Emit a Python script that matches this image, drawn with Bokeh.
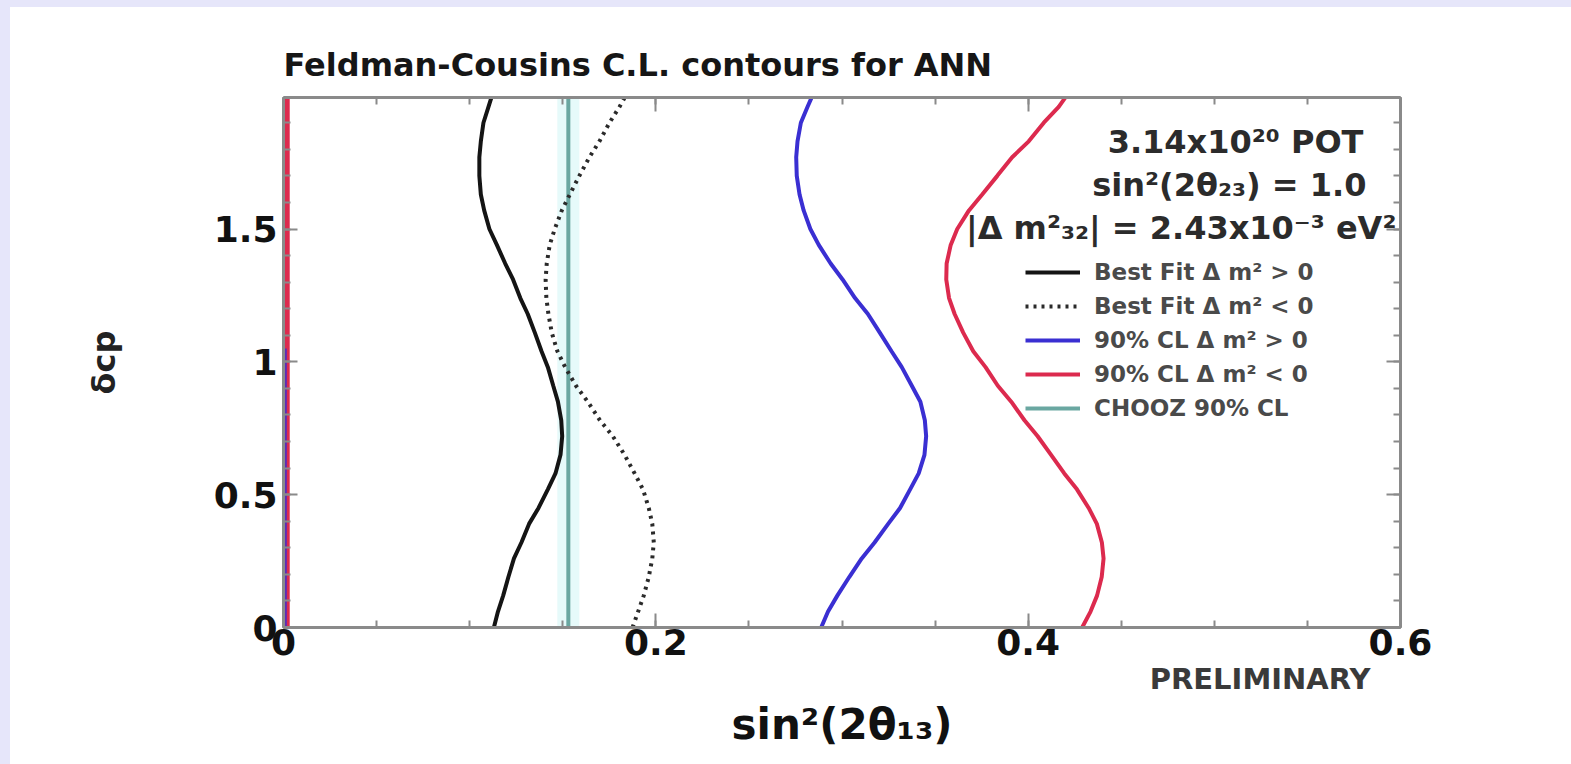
from bokeh.plotting import figure
from bokeh.models import (Range1d, FixedTicker, LinearAxis, Label, Legend, LegendItem,
                          Title, Spacer)
from bokeh.layouts import column, row
from bokeh.embed import file_html
from bokeh.resources import INLINE

# delta_CP (units of pi) sampled along each contour
delta_cp = [0.0, 0.06, 0.12, 0.19, 0.26, 0.32, 0.39, 0.45, 0.52, 0.58, 0.65,
            0.72, 0.78, 0.85, 0.91, 0.98, 1.04, 1.11, 1.18, 1.24, 1.31, 1.37,
            1.44, 1.50, 1.57, 1.63, 1.70, 1.77, 1.83, 1.90, 1.96, 2.0]

# sin^2(2 theta_13) along each contour
best_fit_normal = [0.1130, 0.1152, 0.1180, 0.1208, 0.1238, 0.1278, 0.1319, 0.1370,
                   0.1420, 0.1461, 0.1488, 0.1497, 0.1492, 0.1474, 0.1449, 0.1420,
                   0.1386, 0.1350, 0.1312, 0.1272, 0.1233, 0.1191, 0.1146, 0.1106,
                   0.1078, 0.1060, 0.1052, 0.1052, 0.1060, 0.1074, 0.1101, 0.1119]
best_fit_inverted = [0.1875, 0.1905, 0.1935, 0.1962, 0.1981, 0.1989, 0.1981, 0.1962,
                     0.1931, 0.1886, 0.1832, 0.1769, 0.1700, 0.1634, 0.1571, 0.1513,
                     0.1471, 0.1441, 0.1423, 0.1412, 0.1408, 0.1414, 0.1430, 0.1457,
                     0.1495, 0.1538, 0.1589, 0.1643, 0.1697, 0.1751, 0.1805, 0.1837]
cl90_normal = [0.2888, 0.2925, 0.2975, 0.3039, 0.3106, 0.3175, 0.3248, 0.3312,
               0.3366, 0.3412, 0.3443, 0.3452, 0.3445, 0.3421, 0.3375, 0.3321,
               0.3266, 0.3203, 0.3139, 0.3070, 0.3003, 0.2939, 0.2875, 0.2830,
               0.2794, 0.2772, 0.2757, 0.2754, 0.2761, 0.2779, 0.2815, 0.2840]
cl90_inverted = [0.4290, 0.4335, 0.4370, 0.4395, 0.4405, 0.4396, 0.4369, 0.4325,
                 0.4262, 0.4194, 0.4123, 0.4051, 0.3980, 0.3909, 0.3837, 0.3771,
                 0.3705, 0.3651, 0.3605, 0.3575, 0.3560, 0.3562, 0.3584, 0.3619,
                 0.3682, 0.3753, 0.3834, 0.3914, 0.4003, 0.4084, 0.4164, 0.4205]

# lower edges of the 90% CL regions, pinned near sin^2 = 0
cl90_normal_low_x = [0.001, 0.001]
cl90_normal_low_delta = [0.0, 1.05]
cl90_inverted_low_x = [0.002, 0.002]
cl90_inverted_low_delta = [0.0, 2.0]

# CHOOZ 90% CL upper limit
chooz_limit = 0.153
chooz_delta = [0.0, 2.0]

x_ticks = [0, 0.2, 0.4, 0.6]
x_minor = [round(0.05 * i, 2) for i in range(13)]
y_ticks = [0, 0.5, 1, 1.5]
y_minor = [round(0.1 * i, 1) for i in range(20)]

legend_labels = ["Best Fit \u0394 m\u00b2 > 0", "Best Fit \u0394 m\u00b2 < 0",
                 "90% CL \u0394 m\u00b2 > 0", "90% CL \u0394 m\u00b2 < 0",
                 "CHOOZ 90% CL"]
info_lines = ["3.14x10\u00b2\u2070 POT",
              "sin\u00b2(2\u03b8\u2082\u2083) = 1.0",
              "|\u0394 m\u00b2\u2083\u2082| = 2.43x10\u207b\u00b3 eV\u00b2"]

FONT = "DejaVu Sans"
BLACK = "#141414"
BLUE = "#3a2fd2"
RED = "#dc2a4e"
TEAL = "#6aa7a1"
AXIS_GRAY = "#8a8a8a"
LAVENDER = "#e6e6fa"

p = figure(width=1561, height=757,
           x_range=Range1d(0, 0.6), y_range=Range1d(0, 1.995),
           output_backend="svg", toolbar_location=None,
           min_border_left=273, min_border_right=171,
           min_border_top=90, min_border_bottom=137,
           background_fill_color="white", border_fill_color="white")
p.grid.visible = False
p.outline_line_color = "#6e6e6e"
p.outline_line_width = 2

p.title.text = "Feldman-Cousins C.L. contours for ANN"
p.title.text_font = FONT
p.title.text_font_size = "32px"
p.title.text_font_style = "bold"
p.title.text_color = "#161616"
p.title.align = "left"
p.title.standoff = 28


def style_axis(ax, show_labels):
    ax.axis_line_color = AXIS_GRAY
    ax.axis_line_width = 3
    ax.major_tick_line_color = AXIS_GRAY
    ax.major_tick_line_width = 2
    ax.minor_tick_line_color = AXIS_GRAY
    ax.minor_tick_line_width = 2
    ax.major_tick_in = 14
    ax.major_tick_out = 0
    ax.minor_tick_in = 7
    ax.minor_tick_out = 0
    if show_labels:
        ax.major_label_text_font = FONT
        ax.major_label_text_font_size = "36px"
        ax.major_label_text_font_style = "bold"
        ax.major_label_text_color = "#111111"
    else:
        ax.major_label_text_color = None
        ax.major_label_text_font_size = "1px"


xa = p.xaxis[0]
xa.ticker = FixedTicker(ticks=x_ticks, minor_ticks=x_minor)
xa.major_label_overrides = {0: "0", 0.2: "0.2", 0.4: "0.4", 0.6: "0.6"}
style_axis(xa, True)
xa.major_label_standoff = 1

ya = p.yaxis[0]
ya.ticker = FixedTicker(ticks=y_ticks, minor_ticks=y_minor)
ya.major_label_overrides = {0: "0", 0.5: "0.5", 1: "1", 1.5: "1.5"}
style_axis(ya, True)
ya.major_label_standoff = 6
ya.axis_label = "\u03b4cp"
ya.axis_label_text_font = FONT
ya.axis_label_text_font_size = "32px"
ya.axis_label_text_font_style = "bold"
ya.axis_label_text_color = "#222222"
ya.axis_label_standoff = 88

top_axis = LinearAxis(ticker=FixedTicker(ticks=x_ticks, minor_ticks=x_minor))
style_axis(top_axis, False)
p.add_layout(top_axis, "above")
right_axis = LinearAxis(ticker=FixedTicker(ticks=y_ticks, minor_ticks=y_minor))
style_axis(right_axis, False)
p.add_layout(right_axis, "right")

# texts under the x axis: the stamp first, then the axis title
p.add_layout(Title(text="PRELIMINARY", align="right", offset=30, standoff=4,
                   text_font=FONT, text_font_size="29px", text_font_style="bold",
                   text_color="#3a3a3a"), "below")
p.add_layout(Title(text="sin\u00b2(2\u03b8\u2081\u2083)", align="center", offset=-5,
                   standoff=0, text_font=FONT, text_font_size="42px",
                   text_font_style="bold", text_color="#111111"), "below")

# soft band behind the CHOOZ limit
p.line([chooz_limit, chooz_limit], chooz_delta, line_color="#e6fafa", line_width=22)

r_chooz = p.line([chooz_limit, chooz_limit], chooz_delta, line_color=TEAL, line_width=4)
r_bfn = p.line(best_fit_normal, delta_cp, line_color=BLACK, line_width=4)
r_bfi = p.line(best_fit_inverted, delta_cp, line_color="#2a2a2a", line_width=4,
               line_dash="3 5")
r_cln = p.line(cl90_normal, delta_cp, line_color=BLUE, line_width=4)
r_cli = p.line(cl90_inverted, delta_cp, line_color=RED, line_width=4)
p.line(cl90_inverted_low_x, cl90_inverted_low_delta, line_color=RED, line_width=5)
p.line(cl90_normal_low_x, cl90_normal_low_delta, line_color=BLUE, line_width=3,
       line_alpha=0.8)

legend = Legend(
    items=[LegendItem(label=legend_labels[0], renderers=[r_bfn]),
           LegendItem(label=legend_labels[1], renderers=[r_bfi]),
           LegendItem(label=legend_labels[2], renderers=[r_cln]),
           LegendItem(label=legend_labels[3], renderers=[r_cli]),
           LegendItem(label=legend_labels[4], renderers=[r_chooz])],
    location=(742, 204), padding=0, margin=0, spacing=4,
    glyph_width=55, glyph_height=30, label_height=30, label_standoff=14,
    label_text_font=FONT, label_text_font_size="23px",
    label_text_font_style="bold", label_text_color="#4a4a4a",
    background_fill_alpha=0, border_line_alpha=0)
p.add_layout(legend)

info_pos = [(0.5801, 1.826), (0.5817, 1.664), (0.5978, 1.502)]
for txt, (lx, ly) in zip(info_lines, info_pos):
    p.add_layout(Label(x=lx, y=ly, text=txt, text_align="right",
                       text_baseline="middle", text_font=FONT,
                       text_font_size="32px", text_font_style="bold",
                       text_color="#2b2b2b"))

# lavender strips along the top and left of the page
left_strip = Spacer(width=10, height=764, styles={"background-color": LAVENDER})
top_strip = Spacer(width=1561, height=7, styles={"background-color": LAVENDER})
inner = column(top_strip, p, styles={"overflow": "hidden", "background-color": "white"})
page = row(left_strip, inner, styles={"overflow": "hidden", "background-color": "white"})

open("out.html", "w").write(file_html(page, INLINE))
